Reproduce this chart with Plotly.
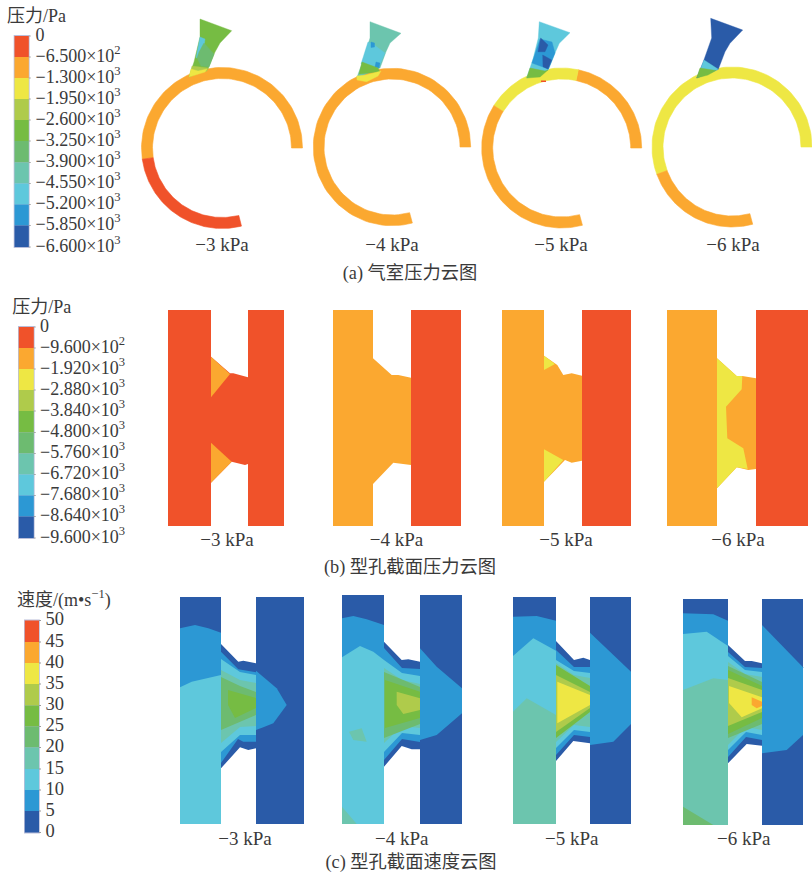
import numpy as np
import plotly.graph_objects as go

# ---- palette (contour bands, top of scale first)
RED, ORG, YEL, LIM, GRN, MID, TEA, CYA, BLU, NAV = (
    "#F0522A", "#FBA830", "#EEE744", "#AFCB4B", "#76BC43",
    "#6DBB70", "#6CC5AE", "#5EC8DC", "#2C98D4", "#2A5BA8")
BANDS = [RED, ORG, YEL, LIM, GRN, MID, TEA, CYA, BLU, NAV]
TXT = "#3a3a3a"

# ---- colour scales
CB_A_LABELS = ["0", "−6.500×10<sup>2</sup>", "−1.300×10<sup>3</sup>", "−1.950×10<sup>3</sup>", "−2.600×10<sup>3</sup>",
               "−3.250×10<sup>3</sup>", "−3.900×10<sup>3</sup>", "−4.550×10<sup>3</sup>", "−5.200×10<sup>3</sup>",
               "−5.850×10<sup>3</sup>", "−6.600×10<sup>3</sup>"]
CB_B_LABELS = ["0", "−9.600×10<sup>2</sup>", "−1.920×10<sup>3</sup>", "−2.880×10<sup>3</sup>", "−3.840×10<sup>3</sup>",
               "−4.800×10<sup>3</sup>", "−5.760×10<sup>3</sup>", "−6.720×10<sup>3</sup>", "−7.680×10<sup>3</sup>",
               "−8.640×10<sup>3</sup>", "−9.600×10<sup>3</sup>"]
CB_C_LABELS = ["50", "45", "40", "35", "30", "25", "20", "15", "10", "5", "0"]
CB_A_Y = [36, 57, 78, 99, 120, 141, 162.5, 183.5, 204.5, 225.5, 247]
CB_B_Y = [327, 348, 369, 390, 411, 432.5, 453.5, 474.5, 495.5, 516.5, 538]
CB_C_Y = [620.5, 642, 663, 684, 705.5, 726.5, 747.5, 769, 790, 811, 832.5]

# ---- (a) rings: cx, cy, outer, inner, [(from deg, to deg, colour)]
RING_1 = (222, 148, 80.5, 69.5, [(0, 188, ORG), (188, 284, RED)])
RING_2 = (392, 147, 78.7, 68, [(0, 285, ORG)])
RING_3 = (561.7, 148, 80, 69, [(0, 78, ORG), (78, 148, YEL), (148, 285, ORG)])
RING_4 = (732, 147, 80, 69, [(0, 200, YEL), (200, 285, ORG)])

# ---- (a) nozzles
NOZ_1 = [(GRN, [(200, 19), (231.7, 30.7), (220, 43), (215, 52), (208, 69), (189, 77), (194, 62), (200, 37)]),
         (CYA, [(200, 37), (205, 39), (203, 55), (196, 58)]),
         (MID, [(199, 52), (204, 43), (214, 54), (209, 67), (201, 66), (197, 58)]),
         (LIM, [(192, 66), (200, 67), (208, 68), (207, 71), (190, 75)]),
         (YEL, [(191, 69), (198, 71), (207, 69), (205, 72), (189, 77)])]
NOZ_2 = [(TEA, [(370, 21.7), (401, 33.3), (390, 43), (386, 51.7), (380, 68), (356.7, 78), (363.3, 60), (370, 38)]),
         (CYA, [(368, 42), (373, 44), (385, 53), (379, 67), (361, 64)]),
         (BLU, [(371, 42), (374.5, 43), (374.5, 47), (371, 47.5)]),
         (BLU, [(376, 62), (380, 63), (379, 68), (375, 67)]),
         (GRN, [(362, 62), (378, 68), (380, 72), (359, 74)]),
         (YEL, [(356.7, 76), (366, 75), (381, 71), (378, 76), (366.7, 81.7), (357, 80)])]
NOZ_3 = [(CYA, [(539.3, 21.7), (570, 32.7), (559.3, 43.3), (555, 53), (548.3, 70), (526.7, 78), (533.3, 58), (538.3, 38)]),
         (BLU, [(540, 39), (552, 42), (555, 53), (548.3, 69), (532, 63)]),
         (NAV, [(540.7, 38), (548, 45), (545, 51.7), (538, 51.7)]),
         (NAV, [(542.7, 55), (551.7, 60), (548, 69), (543, 66.7)]),
         (GRN, [(530, 68), (545, 71), (548, 70), (540, 77), (526.7, 78)])]
RING_MARK_3 = [(541, 80.5), (546, 80.5), (546, 82), (541, 82)]
NOZ_4 = [(NAV, [(710.7, 18.3), (742.7, 30), (730, 43.3), (725, 51.7), (718.3, 69.3), (696.7, 78), (703.3, 61.7), (711.7, 38)]),
         (CYA, [(704, 60), (716, 68.5), (718.3, 69.3), (707, 74), (699, 73)]),
         (GRN, [(700, 68), (708, 69), (716, 70.5), (708, 75), (696.7, 78)])]

# ---- (b) pressure sections: rectangles (x0, x1, y0, y1) and throat outlines
P_RECT_1 = [(RED, (168, 211, 310, 526)), (RED, (248, 284, 310, 526))]
P_THROAT_1 = [(RED, [(211, 356.7), (230, 373.3), (233.3, 373.3), (248, 377.3), (248, 464), (245, 465), (231.7, 461.7), (211, 482.7)]),
              (ORG, [(211, 356.7), (230, 374), (211, 397.3)]),
              (ORG, [(211, 442.7), (231.7, 461.7), (211, 482.7)])]
P_RECT_2 = [(ORG, (333, 373, 310, 526)), (RED, (411, 461, 310, 526))]
P_THROAT_2 = [(ORG, [(373, 358.3), (391.7, 375), (398.3, 375), (411, 377.7), (411, 465), (393.3, 462.7), (373, 484)])]
P_RECT_3 = [(ORG, (502, 544, 310, 526)), (RED, (582, 631, 310, 526))]
P_THROAT_3 = [(ORG, [(544, 355.7), (557.3, 365), (563.3, 375), (571.7, 373.3), (582, 375.7), (582, 460.7), (571.7, 462.7), (565, 460), (544, 481.7)]),
              (YEL, [(544, 355.7), (555, 364), (544, 370)]),
              (YEL, [(544, 449.3), (563.3, 460), (544, 481.7)])]
P_RECT_4 = [(ORG, (667, 717, 310, 526)), (RED, (756, 808, 310, 526))]
P_THROAT_4 = [(ORG, [(717, 358.3), (736.7, 376), (742.3, 376), (756, 378.3), (756, 469), (748.3, 470), (736.7, 467.3), (717, 488.3)]),
              (YEL, [(717, 358.3), (736.7, 376), (742.3, 376), (741.7, 389.3), (726, 406.7), (727.3, 438.3), (743.3, 448.3),
                     (747.7, 469), (736.7, 467.3), (717, 488.3)])]

# ---- (c) velocity sections
V_1 = [(NAV, [(180, 597), (221, 597), (221, 824), (180, 824)]),
       (BLU, [(180, 628.3), (195, 625), (208.3, 628.3), (221, 632.7), (221, 824), (180, 824)]),
       (CYA, [(180, 687.3), (191.7, 681.7), (221, 675), (221, 824), (180, 824)]),
       (NAV, [(256, 597), (304, 597), (304, 824), (256, 824)]),
       (BLU, [(256, 670.7), (263.3, 676.7), (276.7, 688.3), (286.7, 705), (273.3, 723.3), (263.3, 727.3), (256, 730)]),
       (NAV, [(221, 644), (238.3, 661.7), (243.3, 660.7), (256, 663.3), (256, 748.3), (248.3, 750), (240, 747.3), (221, 768.3)]),
       (BLU, [(221, 651.7), (238.3, 669.3), (256, 672.3), (256, 741.7), (243.3, 741.7), (238, 739), (221, 763)]),
       (CYA, [(221, 659), (240, 672), (256, 675), (256, 735), (240, 735), (221, 752)]),
       (TEA, [(221, 670), (240, 680), (256, 683), (256, 726), (240, 727), (221, 743)]),
       (MID, [(221, 677), (240, 686), (256, 692), (256, 715), (221, 730)]),
       (GRN, [(228, 690), (256, 698), (256, 708), (235, 718), (228, 705)])]
V_2 = [(NAV, [(342, 595), (384, 595), (384, 824), (342, 824)]),
       (BLU, [(342, 618.3), (353.3, 616), (366.7, 619.3), (384, 625), (384, 824), (342, 824)]),
       (CYA, [(342, 657.3), (360, 646), (373.3, 651.7), (384, 660), (384, 824), (342, 824)]),
       (TEA, [(349, 731.7), (361.7, 728.3), (366.7, 741.7), (353.3, 740)]),
       (TEA, [(342, 806.7), (356.7, 824), (342, 824)]),
       (NAV, [(420, 595), (462, 595), (462, 824), (420, 824)]),
       (BLU, [(420, 648.3), (436.7, 666.7), (462, 688.3), (462, 713.3), (436.7, 735), (420, 740)]),
       (NAV, [(384, 641.7), (401.7, 660), (408.3, 659.3), (420, 661.7), (420, 749.3), (411.7, 749.3), (401.7, 746), (384, 766.7)]),
       (BLU, [(384, 648), (402, 668), (420, 669), (420, 742), (402, 739), (384, 760)]),
       (CYA, [(384, 660), (402, 673), (420, 676), (420, 735), (402, 733), (384, 752)]),
       (TEA, [(384, 668), (402, 680), (420, 684), (420, 728), (402, 726), (384, 743)]),
       (MID, [(384, 672), (420, 687), (420, 724), (384, 738)]),
       (GRN, [(385, 680), (420, 691.7), (420, 718), (385, 728)]),
       (LIM, [(396.7, 691.7), (420, 698.3), (420, 710), (403.3, 714), (396.7, 705)])]
V_3 = [(NAV, [(513, 597), (556, 597), (556, 824), (513, 824)]),
       (BLU, [(513, 616.7), (536.7, 616), (556, 620.7), (556, 824), (513, 824)]),
       (CYA, [(513, 656), (533.3, 638.3), (556, 650.7), (556, 824), (513, 824)]),
       (TEA, [(513, 711.7), (526.7, 698.3), (556, 715), (556, 824), (513, 824)]),
       (NAV, [(590, 597), (631, 597), (631, 824), (590, 824)]),
       (BLU, [(590, 632.7), (631, 671.7), (631, 724), (613.3, 741.7), (590, 745)]),
       (NAV, [(556, 641), (574, 660), (583.3, 657.7), (590, 660), (590, 743.3), (573.3, 741), (556, 761)]),
       (BLU, [(556, 650), (574, 667), (590, 667), (590, 737), (574, 735), (556, 755)]),
       (CYA, [(556, 660), (574, 671), (590, 673), (590, 732), (574, 730), (556, 748)]),
       (TEA, [(556, 663), (574, 675), (590, 678), (590, 727), (574, 725), (556, 742)]),
       (GRN, [(556, 665), (590, 686), (590, 712), (556, 738)]),
       (LIM, [(556, 675), (590, 692), (590, 708), (556, 732)]),
       (YEL, [(557.3, 681.7), (590, 695), (590, 705), (557.3, 723.3)])]
V_4 = [(NAV, [(683, 599), (728, 599), (728, 825), (683, 825)]),
       (BLU, [(683, 613.3), (713.3, 614.3), (728, 620.7), (728, 825), (683, 825)]),
       (CYA, [(683, 634), (706.7, 631.7), (728, 646), (728, 825), (683, 825)]),
       (TEA, [(683, 690), (713.3, 678.3), (728, 680), (728, 825), (683, 825)]),
       (MID, [(683, 806.7), (713.3, 825), (683, 825)]),
       (NAV, [(762, 599), (803, 599), (803, 825), (762, 825)]),
       (BLU, [(762, 625), (803, 667.3), (803, 735), (786.7, 750), (762, 753.3)]),
       (NAV, [(728, 645), (745, 661), (751.7, 661), (762, 663.3), (762, 745.7), (746.7, 744), (728, 763.3)]),
       (BLU, [(728, 652), (745, 667), (762, 668), (762, 740), (746, 737), (728, 757)]),
       (CYA, [(728, 656), (745, 670), (762, 672), (762, 735), (746, 732), (728, 750)]),
       (TEA, [(728, 662), (745, 674), (762, 677), (762, 730), (746, 727), (728, 745)]),
       (MID, [(728, 666), (762, 682), (762, 724), (728, 738)]),
       (GRN, [(728, 670), (762, 686), (762, 718), (728, 734)]),
       (LIM, [(728, 678), (762, 690), (762, 712), (728, 726)]),
       (YEL, [(729, 686), (762, 697.3), (762, 708.3), (741.7, 717.3), (729, 703)]),
       (ORG, [(751.7, 697.3), (762, 701.7), (762, 706), (756.7, 708.3), (751.7, 705)])]

# ---- captions and case labels
CASES = ["−3 kPa", "−4 kPa", "−5 kPa", "−6 kPa"]
CASE_X_A = [222, 392, 561, 733]
CASE_X_B = [227, 396.5, 566, 738]
CASE_X_C = [245, 401.7, 571.8, 743.8]
CASE_Y = [246, 541.5, 840]
CAPTIONS = ["(a) 气室压力云图", "(b) 型孔截面压力云图", "(c) 型孔截面速度云图"]
CAPTION_X = [410, 410, 411]
CAPTION_Y = [274, 568, 863]
TITLES = ["压力/Pa", "压力/Pa", "速度/(m•s<sup>−1</sup>)"]
TITLE_X = [7, 12.3, 17]
TITLE_Y = [17, 308, 601]

FONT = "Liberation Serif, Noto Sans CJK SC, serif"
fig = go.Figure()


def poly(pts, color, width=0.0):
    xs = [p[0] for p in pts] + [pts[0][0]]
    ys = [p[1] for p in pts] + [pts[0][1]]
    fig.add_trace(go.Scatter(x=xs, y=ys, mode="lines", fill="toself", fillcolor=color,
                             line=dict(color=color, width=width), hoverinfo="skip", showlegend=False))


def rect(x0, x1, y0, y1, color):
    poly([(x0, y0), (x1, y0), (x1, y1), (x0, y1)], color)


def ring(spec):
    cx, cy, ro, ri, parts = spec
    for a0, a1, color in parts:
        t = np.radians(np.linspace(a0, a1, 90))
        pts = [(cx + ro * np.cos(a), cy - ro * np.sin(a)) for a in t]
        pts += [(cx + ri * np.cos(a), cy - ri * np.sin(a)) for a in t[::-1]]
        poly(pts, color, 0.6)


def text(xs, ys, labels, size, pos, color=TXT):
    fig.add_trace(go.Scatter(x=xs, y=ys, text=labels, mode="text", textposition=pos,
                             textfont=dict(family=FONT, size=size, color=color),
                             hoverinfo="skip", showlegend=False))


def colorbar(x0, x1, ys, labels, label_x, size):
    rect(x0 - 0.8, x1 + 0.8, ys[0] - 1, ys[-1] + 1, "#B9BEDA")
    for i, c in enumerate(BANDS):
        rect(x0, x1, ys[i], ys[i + 1], c)
    for y in ys:
        rect(x1, x1 + 2, y - 0.4, y + 0.4, "#9a9a9a")
    text([label_x] * len(ys), ys, labels, size, "middle right")


colorbar(14.5, 28.8, CB_A_Y, CB_A_LABELS, 35.5, 18)
colorbar(18.8, 33.8, CB_B_Y, CB_B_LABELS, 40, 18)
colorbar(24.8, 39, CB_C_Y, CB_C_LABELS, 45.5, 18.5)

for r in (RING_1, RING_2, RING_3, RING_4):
    ring(r)
poly(RING_MARK_3, RED)
for nozzle in (NOZ_1, NOZ_2, NOZ_3, NOZ_4):
    for c, pts in nozzle:
        poly(pts, c, 0.4)

for rects, throat in ((P_RECT_1, P_THROAT_1), (P_RECT_2, P_THROAT_2), (P_RECT_3, P_THROAT_3), (P_RECT_4, P_THROAT_4)):
    for c, (x0, x1, y0, y1) in rects:
        rect(x0, x1, y0, y1, c)
    for c, pts in throat:
        poly(pts, c)

for section in (V_1, V_2, V_3, V_4):
    for c, pts in section:
        poly(pts, c)

text(CASE_X_A, [CASE_Y[0]] * 4, CASES, 19, "middle center")
text(CASE_X_B, [CASE_Y[1]] * 4, CASES, 19, "middle center")
text(CASE_X_C, [CASE_Y[2]] * 4, CASES, 19, "middle center")
text(CAPTION_X, CAPTION_Y, CAPTIONS, 18.3, "middle center")
text(TITLE_X, TITLE_Y, TITLES, 18, "middle right")

fig.update_layout(width=812, height=873, margin=dict(l=0, r=0, t=0, b=0),
                  paper_bgcolor="white", plot_bgcolor="white", showlegend=False,
                  xaxis=dict(range=[0, 812], visible=False, fixedrange=True),
                  yaxis=dict(range=[873, 0], visible=False, fixedrange=True))
fig.write_html("out.html", config=dict(displayModeBar=False),
               post_script="document.body.style.margin='0';document.body.style.overflow='hidden';")
